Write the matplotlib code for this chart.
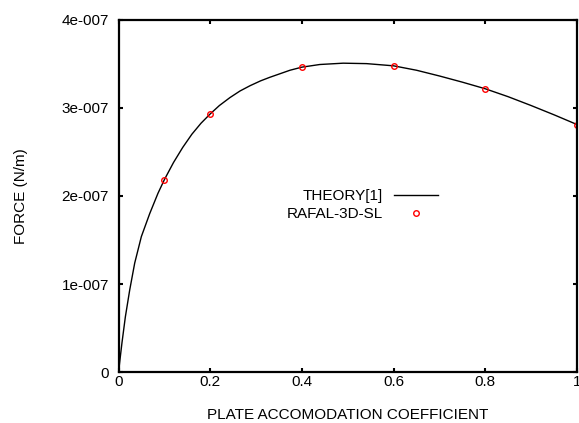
import matplotlib
matplotlib.use("Agg")
import matplotlib.pyplot as plt

plt.rcParams['font.family'] = ['Liberation Sans', 'DejaVu Sans']

# theory curve (force in units of 1e-7 N/m)
theory_x = [0, 0.0026, 0.0076, 0.0149, 0.0244, 0.0353, 0.0498, 0.068, 0.086,
            0.1, 0.12, 0.14, 0.16, 0.18, 0.2, 0.22, 0.243, 0.265, 0.287,
            0.31, 0.33, 0.352, 0.374, 0.4, 0.439, 0.49, 0.541, 0.6, 0.65,
            0.7, 0.75, 0.8, 0.85, 0.9, 0.95, 1.0]
theory_y = [0, 0.12, 0.34, 0.63, 0.935, 1.24, 1.54, 1.80, 2.03,
            2.185, 2.38, 2.55, 2.70, 2.825, 2.93, 3.025, 3.115, 3.19, 3.25,
            3.305, 3.345, 3.385, 3.425, 3.46, 3.49, 3.505, 3.50, 3.475, 3.425,
            3.36, 3.29, 3.215, 3.125, 3.025, 2.92, 2.81]

# simulation points
sim_x = [0.1, 0.2, 0.4, 0.6, 0.8, 1.0]
sim_y = [2.185, 2.93, 3.465, 3.473, 3.216, 2.81]

xticks = [0, 0.2, 0.4, 0.6, 0.8, 1]
xticklabels = ['0', '0.2', '0.4', '0.6', '0.8', '1']
yticks = [0, 1e-7, 2e-7, 3e-7, 4e-7]
yticklabels = ['0', '1e-007', '2e-007', '3e-007', '4e-007']

fig = plt.figure(figsize=(5.79, 4.23), dpi=100)
ax = fig.add_axes([0.2047, 0.1194, 0.7918, 0.8345])

ax.plot(theory_x, [v * 1e-7 for v in theory_y], color='black', lw=1, label='THEORY[1]')
ax.plot(sim_x, [v * 1e-7 for v in sim_y], ls='none', marker='o', ms=4, mfc='none',
        mec='red', mew=1, label='RAFAL-3D-SL')

ax.set_xlim(0, 1)
ax.set_ylim(0, 4e-7)
ax.set_xticks(xticks)
ax.set_xticklabels(xticklabels)
ax.set_yticks(yticks)
ax.set_yticklabels(yticklabels)
ax.tick_params(direction='in', length=3, width=1.5, labelsize=11,
               top=True, right=True)
ax.tick_params(axis='x', pad=1.5)
ax.tick_params(axis='y', pad=7)
for s in ax.spines.values():
    s.set_linewidth(1.6)

ax.set_xlabel('PLATE ACCOMODATION COEFFICIENT', fontsize=11, labelpad=14)
ax.set_ylabel('FORCE (N/m)', fontsize=11, labelpad=24)

ax.legend(loc='center right', bbox_to_anchor=(446 / 579, 1 - 205 / 423),
          bbox_transform=fig.transFigure, frameon=False, markerfirst=False,
          fontsize=11, borderpad=0, handlelength=2.9, handletextpad=0.7,
          labelspacing=0.25)

fig.savefig('out.png', dpi=100)
